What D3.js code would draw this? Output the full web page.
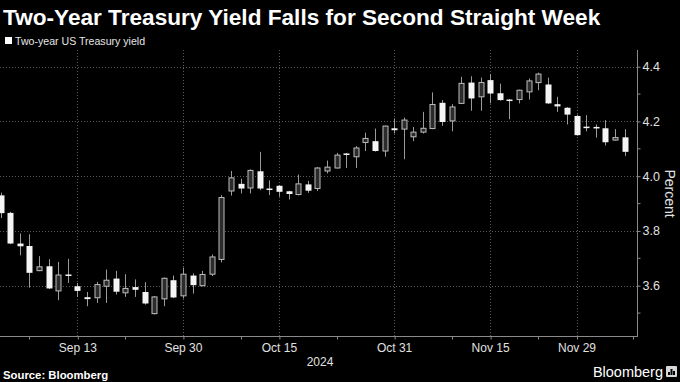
<!DOCTYPE html>
<html><head><meta charset="utf-8">
<script src="https://cdn.jsdelivr.net/npm/d3@7"></script>
<style>
html,body{margin:0;padding:0;background:#000;}
svg{display:block;}
text{font-family:"Liberation Sans",Arial,sans-serif;}
</style></head>
<body>
<svg id="c" width="680" height="382"></svg>
<script>
const dates = ["Sep 3","Sep 4","Sep 5","Sep 6","Sep 9","Sep 10","Sep 11","Sep 12","Sep 13","Sep 16","Sep 17","Sep 18","Sep 19","Sep 20","Sep 23","Sep 24","Sep 25","Sep 26","Sep 27","Sep 30",
"Oct 1","Oct 2","Oct 3","Oct 4","Oct 7","Oct 8","Oct 9","Oct 10","Oct 11","Oct 15","Oct 16","Oct 17","Oct 18","Oct 21","Oct 22","Oct 23","Oct 24","Oct 25","Oct 28","Oct 29","Oct 30","Oct 31",
"Nov 1","Nov 4","Nov 5","Nov 6","Nov 7","Nov 8","Nov 12","Nov 13","Nov 14","Nov 15","Nov 18","Nov 19","Nov 20","Nov 21","Nov 22","Nov 25","Nov 26","Nov 27","Nov 29",
"Dec 2","Dec 3","Dec 4","Dec 5","Dec 6"];
const open  = [3.930,3.866,3.754,3.745,3.655,3.671,3.581,3.641,3.598,3.558,3.556,3.598,3.626,3.574,3.595,3.577,3.498,3.552,3.620,3.563,
3.637,3.600,3.642,3.696,3.946,3.972,3.957,4.018,3.955,3.965,3.945,3.933,3.970,3.955,4.019,4.030,4.083,4.071,4.123,4.128,4.092,4.175,
4.172,4.144,4.161,4.174,4.268,4.202,4.266,4.342,4.290,4.351,4.303,4.280,4.280,4.308,4.342,4.335,4.263,4.250,4.220,
4.181,4.180,4.175,4.132,4.142];
const high  = [3.940,3.870,3.791,3.788,3.708,3.697,3.687,3.698,3.610,3.577,3.614,3.659,3.654,3.642,3.623,3.613,3.562,3.630,3.637,3.666,
3.645,3.654,3.714,3.931,4.019,3.991,4.025,4.089,3.985,3.968,3.947,4.006,3.983,4.033,4.057,4.085,4.085,4.110,4.159,4.174,4.185,4.211,
4.214,4.180,4.235,4.306,4.278,4.263,4.363,4.365,4.360,4.373,4.338,4.282,4.316,4.357,4.378,4.360,4.290,4.252,4.225,
4.223,4.189,4.205,4.172,4.172];
const low   = [3.847,3.752,3.711,3.593,3.653,3.588,3.547,3.610,3.559,3.525,3.537,3.537,3.568,3.559,3.559,3.531,3.495,3.525,3.555,3.553,
3.571,3.598,3.635,3.685,3.929,3.937,3.937,3.949,3.931,3.925,3.915,3.930,3.939,3.946,4.010,4.028,4.030,4.030,4.092,4.090,4.071,4.156,
4.062,4.128,4.156,4.172,4.184,4.164,4.264,4.239,4.239,4.266,4.276,4.208,4.266,4.280,4.314,4.264,4.235,4.189,4.148,
4.164,4.141,4.112,4.130,4.074];
const close = [3.865,3.754,3.744,3.647,3.669,3.590,3.639,3.636,3.581,3.551,3.604,3.620,3.578,3.590,3.585,3.535,3.559,3.627,3.557,3.642,
3.602,3.641,3.705,3.922,3.994,3.955,4.021,3.955,3.952,3.943,3.935,3.972,3.947,4.030,4.033,4.077,4.078,4.103,4.138,4.092,4.183,4.168,
4.205,4.161,4.175,4.262,4.198,4.253,4.339,4.284,4.342,4.302,4.278,4.276,4.314,4.348,4.373,4.266,4.255,4.225,4.150,
4.176,4.175,4.124,4.141,4.089];
const xTickLabels = ["Sep 13","Sep 30","Oct 15","Oct 31","Nov 15","Nov 29"];
const xMinorTicks = ["Sep 6","Sep 20","Oct 8","Oct 23","Nov 8","Nov 22"];
const yTicks = [3.6,3.8,4.0,4.2,4.4];
const yMinorTicks = [3.5,3.7,3.9,4.1,4.3];
const yearLabel = "2024";
const title = "Two-Year Treasury Yield Falls for Second Straight Week";
const legendLabel = "Two-year US Treasury yield";
const unitLabel = "Percent";
const source = "Source: Bloomberg";

const svg = d3.select("#c");
const W = 680, H = 382;
const plotL = 0, plotR = 638, plotT = 50, plotB = 337;

svg.append("rect").attr("width",W).attr("height",H).attr("fill","#000");

const idx = d => dates.indexOf(d);
const x = d3.scaleLinear().domain([0, dates.length - 1]).range([0.5, 624.5]);
const y = d3.scaleLinear().domain([3.4126, 4.461]).range([plotB, plotT]);

function fit(sel, size, target){
  let fs = size; sel.attr("font-size", fs);
  for (let k=0;k<6;k++){ const w = sel.node().getComputedTextLength(); fs = fs*target/w; sel.attr("font-size",fs); }
}

// title
const t = svg.append("text").attr("x",3).attr("y",25).attr("fill","#fff")
  .attr("font-weight","bold").text(title);
fit(t, 20, 597);

// legend
svg.append("rect").attr("x",5).attr("y",37).attr("width",7).attr("height",7).attr("fill","#fff");
const lt = svg.append("text").attr("x",15).attr("y",44.5).attr("fill","#e6e6e6").text(legendLabel);
fit(lt, 11, 130);

// gridlines
const grid = svg.append("g");
grid.selectAll("line.h").data(yTicks).enter().append("line")
  .attr("x1",plotL).attr("x2",plotR).attr("y1",d=>Math.round(y(d))+0.5).attr("y2",d=>Math.round(y(d))+0.5)
  .attr("stroke","#5a5a5a").attr("stroke-dasharray","1,2");
grid.selectAll("line.v").data(xTickLabels).enter().append("line")
  .attr("x1",d=>Math.round(x(idx(d)))+0.5).attr("x2",d=>Math.round(x(idx(d)))+0.5)
  .attr("y1",plotT).attr("y2",plotB)
  .attr("stroke","#5a5a5a").attr("stroke-dasharray","1,2");

// candles
const candles = svg.append("g");
const bw = 5;
dates.forEach((d,i)=>{
  const cx = Math.round(x(i)) + 0.5;
  const up = close[i] > open[i];
  candles.append("line").attr("x1",cx).attr("x2",cx).attr("y1",y(high[i])).attr("y2",y(low[i]))
    .attr("stroke","#9a9a9a").attr("stroke-width",1);
  const top = y(Math.max(open[i],close[i])), bot = y(Math.min(open[i],close[i]));
  const h = Math.max(1.5, bot-top);
  if (up) {
    candles.append("rect").attr("x",cx-bw/2).attr("y",top).attr("width",bw).attr("height",h)
      .attr("fill","#2b2b2b").attr("stroke","#bdbdbd").attr("stroke-width",1);
  } else {
    candles.append("rect").attr("x",cx-bw/2-0.5).attr("y",top).attr("width",bw+1).attr("height",h)
      .attr("fill","#f5f5f5");
  }
});

// y axis (right)
const yAxis = d3.axisRight(y).tickValues(yTicks).tickSize(3).tickPadding(2).tickFormat(d3.format(".1f"));
const ya = svg.append("g").attr("transform",`translate(${plotR-0.5},0)`).call(yAxis);
ya.select(".domain").attr("stroke","#8a8a8a").attr("d",`M0,${plotT}V${plotB}`);
ya.selectAll(".tick line").attr("stroke","#8a8a8a");
ya.selectAll(".tick text").attr("fill","#e0e0e0").attr("font-size",12.5).attr("font-family","Liberation Sans,Arial,sans-serif");
ya.selectAll(".minor").data(yMinorTicks).enter().append("line").attr("class","minor")
  .attr("x1",0).attr("x2",3).attr("y1",d=>y(d)).attr("y2",d=>y(d)).attr("stroke","#8a8a8a");

svg.append("text").attr("transform",`translate(665,${(plotT+plotB)/2}) rotate(90)`)
  .attr("text-anchor","middle").attr("fill","#e0e0e0").attr("font-size",14).text(unitLabel);

// x axis
const xAxis = d3.axisBottom(x).tickValues(xTickLabels.map(idx)).tickSize(3).tickPadding(4)
  .tickFormat(i=>dates[i]);
const xa = svg.append("g").attr("transform",`translate(0,${plotB-0.5})`).call(xAxis);
xa.select(".domain").attr("stroke","#8a8a8a").attr("d",`M${plotL},0H${plotR}`);
xa.selectAll(".tick line").attr("stroke","#8a8a8a").attr("transform","translate(0.5,0)");
xa.selectAll(".tick text").attr("fill","#e0e0e0").attr("font-size",12).attr("font-family","Liberation Sans,Arial,sans-serif");
xa.selectAll(".minor").data(xMinorTicks).enter().append("line").attr("class","minor")
  .attr("x1",d=>Math.round(x(idx(d)))+0.5).attr("x2",d=>Math.round(x(idx(d)))+0.5)
  .attr("y1",0).attr("y2",3).attr("stroke","#8a8a8a");
xa.append("line").attr("x1",x(dates.length-1)+9).attr("x2",x(dates.length-1)+9).attr("y1",0).attr("y2",3).attr("stroke","#8a8a8a");

svg.append("text").attr("x",320).attr("y",366).attr("text-anchor","middle").attr("fill","#e0e0e0")
  .attr("font-size",12).text(yearLabel);

// footer
const src = svg.append("text").attr("x",3).attr("y",379).attr("fill","#fff").attr("font-weight","bold")
  .attr("font-family","DejaVu Sans, sans-serif").text(source);
fit(src, 10.5, 105);
svg.append("text").attr("x",663).attr("y",377).attr("text-anchor","end").attr("fill","#fff")
  .attr("font-size",14.5).attr("font-weight","500").attr("font-family","Roboto, Arial, sans-serif").text("Bloomberg");
const lg = svg.append("g").attr("transform","translate(666,366)");
lg.append("rect").attr("width",11).attr("height",11).attr("rx",1).attr("fill","#d8d8d8");
[[2,6,2],[4.5,3,2],[7,5,2]].forEach(([bx,by,bwid])=>lg.append("rect").attr("x",bx).attr("y",by).attr("width",bwid).attr("height",9-by).attr("fill","#000"));
</script>
</body></html>
